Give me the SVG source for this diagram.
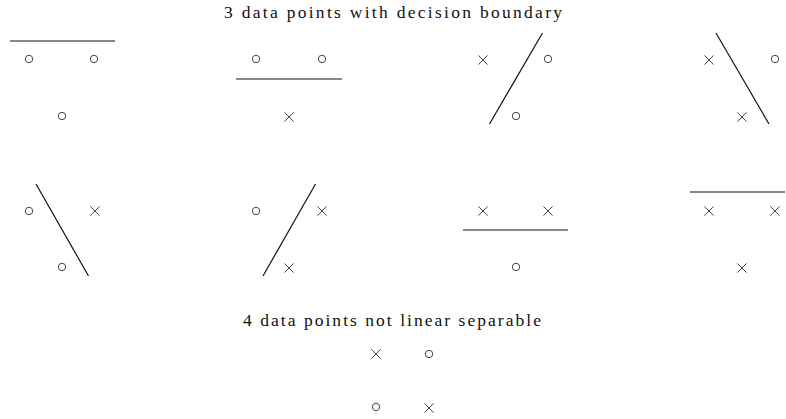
<svg xmlns="http://www.w3.org/2000/svg" width="786" height="419" viewBox="0 0 786 419">
<defs>
<style>
.t{font-family:"Liberation Serif","DejaVu Serif",serif;font-size:17.5px;fill:#111;text-anchor:middle}
.o{fill:none;stroke:#444;stroke-width:1}
.b{stroke:#111;stroke-width:1.2;fill:none}
</style>
<circle id="o" class="o" r="3.7"/>
<path id="x" class="o" d="M-4.6,-4.6L4.6,4.6M-4.6,4.6L4.6,-4.6"/>
</defs>
<rect width="786" height="419" fill="#fff"/>
<text class="t" x="393" y="18" textLength="338" lengthAdjust="spacing">3 data points with decision boundary</text>
<text class="t" x="392" y="326" textLength="298" lengthAdjust="spacing">4 data points not linear separable</text>
<g id="p1"><line class="b" x1="10" y1="41" x2="115" y2="41"/><use href="#o" x="29" y="59"/><use href="#o" x="94" y="59"/><use href="#o" x="62" y="116"/></g>
<g id="p2"><line class="b" x1="236" y1="79" x2="342" y2="79"/><use href="#o" x="256" y="59"/><use href="#o" x="322" y="59"/><use href="#x" x="289" y="117"/></g>
<g id="p3"><line class="b" x1="542.5" y1="33" x2="489.5" y2="124"/><use href="#x" x="483" y="60"/><use href="#o" x="548" y="59"/><use href="#o" x="516" y="116"/></g>
<g id="p4"><line class="b" x1="716" y1="33" x2="769" y2="124"/><use href="#x" x="709" y="60"/><use href="#o" x="775" y="59"/><use href="#x" x="742" y="117"/></g>
<g id="p5"><line class="b" x1="36" y1="184" x2="88.5" y2="276"/><use href="#o" x="29" y="211"/><use href="#x" x="95" y="211"/><use href="#o" x="62" y="267"/></g>
<g id="p6"><line class="b" x1="315.5" y1="184" x2="263" y2="276"/><use href="#o" x="256" y="211"/><use href="#x" x="322" y="211"/><use href="#x" x="289" y="268"/></g>
<g id="p7"><line class="b" x1="463" y1="230" x2="568" y2="230"/><use href="#x" x="483" y="211"/><use href="#x" x="548" y="211"/><use href="#o" x="516" y="267"/></g>
<g id="p8"><line class="b" x1="690" y1="192" x2="785" y2="192"/><use href="#x" x="709" y="211"/><use href="#x" x="775" y="211"/><use href="#x" x="742" y="268"/></g>
<g id="p9"><use href="#x" x="376" y="354"/><use href="#o" x="429" y="354"/><use href="#o" x="376" y="407"/><use href="#x" x="429" y="408"/></g>
<g id="connectors"/>
</svg>
